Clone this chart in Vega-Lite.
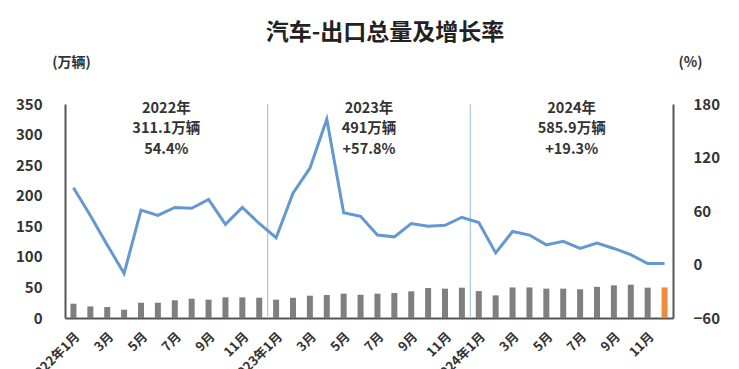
{
  "$schema": "https://vega.github.io/schema/vega-lite/v6.json",
  "autosize": "none",
  "width": 608,
  "height": 214,
  "padding": {"left": 65, "top": 104, "right": 66, "bottom": 51},
  "background": "white",
  "config": {
    "view": {"stroke": null},
    "font": "Noto Sans CJK SC",
    "axis": {"labelFont": "Noto Sans CJK SC", "titleFont": "Noto Sans CJK SC"}
  },
  "title": {
    "text": "汽车-出口总量及增长率",
    "fontSize": 23,
    "fontWeight": "bold",
    "color": "#222222",
    "font": "Noto Sans CJK SC",
    "anchor": "middle",
    "dx": 16,
    "offset": 10
  },
  "data": {
    "values": [
      {"d": "2022-01", "exports": 23.4, "growth": 86},
      {"d": "2022-02", "exports": 19.0, "growth": 55},
      {"d": "2022-03", "exports": 18.0, "growth": 22},
      {"d": "2022-04", "exports": 13.6, "growth": -10},
      {"d": "2022-05", "exports": 25.0, "growth": 61},
      {"d": "2022-06", "exports": 25.0, "growth": 55},
      {"d": "2022-07", "exports": 29.0, "growth": 64},
      {"d": "2022-08", "exports": 31.5, "growth": 63},
      {"d": "2022-09", "exports": 30.0, "growth": 73},
      {"d": "2022-10", "exports": 33.8, "growth": 45},
      {"d": "2022-11", "exports": 33.8, "growth": 64},
      {"d": "2022-12", "exports": 33.2, "growth": 46},
      {"d": "2023-01", "exports": 30.0, "growth": 30},
      {"d": "2023-02", "exports": 33.0, "growth": 80},
      {"d": "2023-03", "exports": 36.5, "growth": 108},
      {"d": "2023-04", "exports": 37.6, "growth": 163},
      {"d": "2023-05", "exports": 39.8, "growth": 58},
      {"d": "2023-06", "exports": 38.0, "growth": 54},
      {"d": "2023-07", "exports": 39.8, "growth": 33},
      {"d": "2023-08", "exports": 40.9, "growth": 31},
      {"d": "2023-09", "exports": 43.6, "growth": 46},
      {"d": "2023-10", "exports": 49.0, "growth": 43},
      {"d": "2023-11", "exports": 48.0, "growth": 44},
      {"d": "2023-12", "exports": 49.6, "growth": 53},
      {"d": "2024-01", "exports": 44.0, "growth": 47},
      {"d": "2024-02", "exports": 37.0, "growth": 13},
      {"d": "2024-03", "exports": 50.0, "growth": 37},
      {"d": "2024-04", "exports": 50.0, "growth": 33},
      {"d": "2024-05", "exports": 48.0, "growth": 22},
      {"d": "2024-06", "exports": 48.0, "growth": 26},
      {"d": "2024-07", "exports": 47.0, "growth": 18},
      {"d": "2024-08", "exports": 51.0, "growth": 24},
      {"d": "2024-09", "exports": 53.4, "growth": 18},
      {"d": "2024-10", "exports": 54.5, "growth": 11},
      {"d": "2024-11", "exports": 49.6, "growth": 1},
      {"d": "2024-12", "exports": 50.0, "growth": 1}
    ]
  },
  "encoding": {
    "x": {
      "field": "d",
      "type": "ordinal",
      "scale": {"paddingInner": 0, "paddingOuter": 0},
      "axis": {
        "title": null,
        "domain": true,
        "domainColor": "#555555",
        "domainWidth": 2,
        "ticks": false,
        "tickSize": 0,
        "labelAngle": -45,
        "labelAlign": "right",
        "labelBaseline": "top",
        "labelPadding": 12,
        "labelFontSize": 13,
        "labelFontWeight": "bold",
        "labelColor": "#333333",
        "labelOverlap": false,
        "labelBound": false,
        "labelExpr": "toNumber(substring(datum.value,5,7)) == 1 ? substring(datum.value,0,4) + '年1月' : (toNumber(substring(datum.value,5,7)) % 2 == 1 ? toNumber(substring(datum.value,5,7)) + '月' : '')"
      }
    }
  },
  "layer": [
    {
      "layer": [
        {
          "data": {"values": [{"d": "2023-01"}, {"d": "2024-01"}]},
          "mark": {"type": "rule", "color": "#a9c6dc", "strokeWidth": 1.2},
          "encoding": {
            "x": {"field": "d", "type": "ordinal", "bandPosition": 0}
          }
        },
        {
          "mark": {"type": "bar", "size": 6},
          "encoding": {
            "y": {
              "field": "exports",
              "type": "quantitative",
              "scale": {"domain": [0, 350]},
              "axis": {
                "values": [0, 50, 100, 150, 200, 250, 300, 350],
                "grid": false,
                "ticks": false,
                "tickSize": 0,
                "labelOverlap": false,
                "domainColor": "#555555",
                "domainWidth": 2,
                "labelPadding": 23,
                "labelFontSize": 15,
                "labelFontWeight": "bold",
                "labelColor": "#333333",
                "title": "(万辆)",
                "titleAngle": 0,
                "titleX": 6,
                "titleY": -42,
                "titleAlign": "center",
                "titleBaseline": "middle",
                "titleFontSize": 14,
                "titleFontWeight": "bold",
                "titleColor": "#333333"
              }
            },
            "color": {
              "condition": {"test": "datum.d == '2024-12'", "value": "#ef8a3e"},
              "value": "#7f7f7f"
            }
          }
        }
      ]
    },
    {
      "mark": {"type": "line", "color": "#6399d0", "strokeWidth": 3},
      "encoding": {
        "y": {
          "field": "growth",
          "type": "quantitative",
          "scale": {"domain": [-60, 180]},
          "axis": {
            "orient": "right",
            "values": [-60, 0, 60, 120, 180],
            "grid": false,
            "ticks": false,
            "tickSize": 0,
            "labelOverlap": false,
            "domainColor": "#555555",
            "domainWidth": 2,
            "labelPadding": 20,
            "labelFontSize": 15,
            "labelFontWeight": "bold",
            "labelColor": "#333333",
            "title": "(%)",
            "titleAngle": 0,
            "titleX": 17,
            "titleY": -42,
            "titleAlign": "center",
            "titleBaseline": "middle",
            "titleFontSize": 14,
            "titleFontWeight": "bold",
            "titleColor": "#333333"
          }
        }
      }
    },
    {
      "data": {
        "values": [
          {"d": "2022-07", "label": ["2022年", "311.1万辆", "54.4%"]},
          {"d": "2023-07", "label": ["2023年", "491万辆", "+57.8%"]},
          {"d": "2024-07", "label": ["2024年", "585.9万辆", "+19.3%"]}
        ]
      },
      "mark": {
        "type": "text",
        "baseline": "top",
        "align": "center",
        "fontSize": 14.5,
        "fontWeight": "bold",
        "lineHeight": 20.5,
        "color": "#333333"
      },
      "encoding": {
        "x": {"field": "d", "type": "ordinal", "bandPosition": 0},
        "y": {"datum": 354, "type": "quantitative", "scale": {"domain": [0, 350]}, "axis": null},
        "text": {"field": "label"}
      }
    }
  ],
  "resolve": {"scale": {"y": "independent"}}
}
